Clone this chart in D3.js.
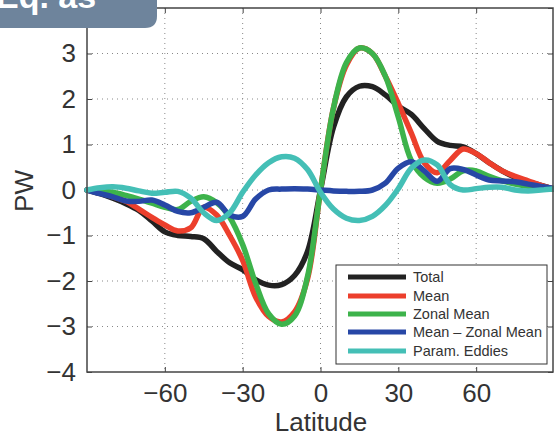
<!DOCTYPE html>
<html><head><meta charset="utf-8">
<script src="https://cdn.jsdelivr.net/npm/d3@7"></script>
<style>
html,body{margin:0;padding:0;background:#fff;}
svg{display:block;}
</style></head>
<body>
<svg id="chart" width="554" height="436"></svg>
<script>
// Data
const latitudes = [-90,-85,-80,-75,-70,-65,-60,-55,-50,-45,-40,-35,-30,-25,-20,-15,-10,-5,0,5,10,15,20,25,30,35,40,45,50,55,60,65,70,75,80,85,90];
const total     = [0,-0.08,-0.18,-0.3,-0.45,-0.68,-0.92,-1.0,-1.02,-1.07,-1.35,-1.6,-1.75,-1.97,-2.09,-2.08,-1.88,-1.35,0,1.38,2.05,2.28,2.27,2.09,1.84,1.66,1.35,1.07,0.98,0.95,0.8,0.6,0.42,0.28,0.18,0.1,0.02];
const mean      = [0,-0.07,-0.15,-0.25,-0.42,-0.6,-0.77,-0.9,-0.83,-0.38,-0.55,-1.0,-1.55,-2.35,-2.78,-2.9,-2.68,-1.95,0,1.8,2.75,3.12,3.0,2.5,1.9,1.25,0.6,0.38,0.65,0.9,0.8,0.6,0.42,0.3,0.2,0.1,0.02];
const zonalMean = [0,-0.02,-0.05,-0.12,-0.2,-0.29,-0.38,-0.43,-0.25,-0.15,-0.28,-0.6,-1.2,-2.05,-2.72,-2.95,-2.77,-1.9,0,1.8,2.8,3.12,3.0,2.5,1.6,0.65,0.28,0.15,0.24,0.42,0.42,0.3,0.2,0.13,0.08,0.05,0.02];
const meanMinusZonal = [0,-0.08,-0.15,-0.24,-0.25,-0.22,-0.33,-0.47,-0.5,-0.38,-0.27,-0.55,-0.58,-0.2,0,0.02,0.03,0.02,0,-0.02,-0.03,-0.03,0,0.15,0.48,0.62,0.42,0.19,0.47,0.45,0.33,0.22,0.2,0.18,0.13,0.08,0.03];
const paramEddies = [0,0.05,0.07,0.04,-0.02,-0.07,-0.05,-0.03,-0.18,-0.5,-0.67,-0.5,-0.05,0.33,0.6,0.73,0.7,0.45,-0.05,-0.42,-0.62,-0.67,-0.58,-0.34,0.03,0.48,0.66,0.55,0.12,0.0,0.03,0.06,0.06,0.0,-0.02,0.0,0.03];
const seriesNames = ["Total","Mean","Zonal Mean","Mean \u2013 Zonal Mean","Param. Eddies"];
const seriesColors = ["#222222","#ec3f2c","#3db34b","#2747a6","#44bfb6"];
const xTicks = [-60,-30,0,30,60];
const yTicks = [-4,-3,-2,-1,0,1,2,3,4];
const yTickLabels = ["\u22124","\u22123","\u22122","\u22121","0","1","2","3",""]; // "4" is hidden by the badge

const seriesData = [total, mean, zonalMean, meanMinusZonal, paramEddies];

const svg = d3.select("#chart");
const L = 87, R = 554, T = 8, B = 372;
const x = d3.scaleLinear().domain([-90,90]).range([L,R]);
const y = d3.scaleLinear().domain([-4,4]).range([B,T]);
const font = "'Liberation Sans', Arial, Helvetica, sans-serif";
const axisColor = "#444";

svg.append("rect").attr("x",L).attr("y",T).attr("width",R-L).attr("height",B-T).attr("fill","#fff");

// grid
const grid = svg.append("g").attr("stroke","#888").attr("stroke-width",1).attr("stroke-dasharray","1,4");
xTicks.forEach(t=>grid.append("line").attr("x1",x(t)).attr("x2",x(t)).attr("y1",T).attr("y2",B));
yTicks.filter(t=>t>-4&&t<4).forEach(t=>grid.append("line").attr("x1",L).attr("x2",R).attr("y1",y(t)).attr("y2",y(t)));

// axes
const xAxis = d3.axisBottom(x).tickValues(xTicks).tickSizeInner(-5).tickSizeOuter(0).tickPadding(12).tickFormat(d=>d<0?"\u2212"+Math.abs(d):d);
const gx = svg.append("g").attr("transform",`translate(0,${B})`).call(xAxis);
gx.select(".domain").remove();
gx.selectAll("text").attr("font-family",font).attr("font-size",26).attr("fill","#333").attr("dy","0.71em");
gx.selectAll("line").attr("stroke",axisColor);

const xTop = d3.axisTop(x).tickValues(xTicks).tickSizeInner(-5).tickSizeOuter(0).tickFormat("");
const gxt = svg.append("g").attr("transform",`translate(0,${T})`).call(xTop);
gxt.select(".domain").remove();
gxt.selectAll("line").attr("stroke",axisColor);

const yAxis = d3.axisLeft(y).tickValues(yTicks).tickSizeInner(-5).tickSizeOuter(0).tickPadding(11).tickFormat((d,i)=>yTickLabels[i]);
const gy = svg.append("g").attr("transform",`translate(${L},0)`).call(yAxis);
gy.select(".domain").remove();
gy.selectAll("text").attr("font-family",font).attr("font-size",26).attr("fill","#333");
gy.selectAll("line").attr("stroke",axisColor);

const yRight = d3.axisRight(y).tickValues(yTicks).tickSizeInner(-5).tickSizeOuter(0).tickFormat("");
const gyr = svg.append("g").attr("transform",`translate(${R-1},0)`).call(yRight);
gyr.select(".domain").remove();
gyr.selectAll("line").attr("stroke",axisColor);

// lines
const line = d3.line().x((d,i)=>x(latitudes[i])).y(d=>y(d)).curve(d3.curveCatmullRom.alpha(0.5));
const gl = svg.append("g");
seriesData.forEach((s,k)=>{
  gl.append("path").datum(s).attr("d",line).attr("fill","none")
    .attr("stroke",seriesColors[k]).attr("stroke-width",5.5)
    .attr("stroke-linejoin","round").attr("stroke-linecap","round");
});

// frame
svg.append("rect").attr("x",L).attr("y",T).attr("width",R-L-1).attr("height",B-T)
  .attr("fill","none").attr("stroke",axisColor).attr("stroke-width",1.5);

// legend
const lg = svg.append("g");
lg.append("rect").attr("x",336).attr("y",265).attr("width",211).attr("height",99)
  .attr("fill","#fff").attr("stroke","#333").attr("stroke-width",1);
const rowY = [277,296,314,332,351];
seriesNames.forEach((n,k)=>{
  lg.append("line").attr("x1",348).attr("x2",406).attr("y1",rowY[k]).attr("y2",rowY[k])
    .attr("stroke",seriesColors[k]).attr("stroke-width",5);
  lg.append("text").attr("x",413).attr("y",rowY[k]).attr("dy","0.35em")
    .attr("font-family",font).attr("font-size",14.5).attr("fill","#333").text(n);
});

// axis titles
svg.append("text").attr("x",321).attr("y",431).attr("text-anchor","middle")
  .attr("font-family",font).attr("font-size",26).attr("fill","#333").text("Latitude");
svg.append("text").attr("transform","translate(33,191) rotate(-90)").attr("text-anchor","middle")
  .attr("font-family",font).attr("font-size",26).attr("fill","#333").text("PW");

// badge top-left
svg.append("path").attr("d","M0,0 H157 V16 Q157,28 145,28 H0 Z").attr("fill","#6e849c");
svg.append("text").attr("x",-4).attr("y",8).attr("font-family",font).attr("font-weight","bold")
  .attr("font-size",34).attr("fill","#fff").text("Eq. as");
</script>
</body></html>
